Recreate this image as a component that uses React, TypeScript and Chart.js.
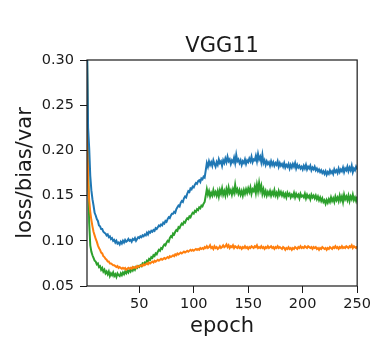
import React, { useEffect, useRef } from "react";
import { Chart, registerables } from "chart.js";

Chart.register(...registerables);

const TITLE = "VGG11";
const X_LABEL = "epoch";
const Y_LABEL = "loss/bias/var";
const xTicks = [50, 100, 150, 200, 250];
const yTicks = [0.05, 0.1, 0.15, 0.2, 0.25, 0.3];
const epochs: number[] = Array.from({ length: 250 }, (_, i) => i + 1);

const lossBlue = [
  0.420, 0.320, 0.225, 0.203, 0.172, 0.156, 0.146, 0.139, 0.131, 0.128,
  0.124, 0.122, 0.117, 0.116, 0.113, 0.113, 0.110, 0.109, 0.108, 0.106,
  0.107, 0.104, 0.105, 0.102, 0.103, 0.100, 0.101, 0.098, 0.100, 0.097,
  0.098, 0.096, 0.099, 0.097, 0.100, 0.098, 0.101, 0.099, 0.100, 0.102,
  0.100, 0.101, 0.099, 0.102, 0.101, 0.103, 0.100, 0.102, 0.104, 0.103,
  0.105, 0.104, 0.106, 0.105, 0.107, 0.106, 0.109, 0.107, 0.110, 0.109,
  0.111, 0.110, 0.112, 0.111, 0.114, 0.113, 0.115, 0.117, 0.116, 0.118,
  0.117, 0.120, 0.119, 0.122, 0.121, 0.124, 0.126, 0.125, 0.128, 0.130,
  0.130, 0.132, 0.131, 0.135, 0.137, 0.139, 0.138, 0.142, 0.144, 0.143,
  0.147, 0.149, 0.148, 0.152, 0.155, 0.154, 0.158, 0.157, 0.160, 0.159,
  0.162, 0.164, 0.163, 0.166, 0.167, 0.165, 0.169, 0.168, 0.171, 0.170,
  0.178, 0.186, 0.182, 0.188, 0.184, 0.187, 0.183, 0.189, 0.185, 0.182,
  0.187, 0.184, 0.190, 0.186, 0.188, 0.183, 0.189, 0.186, 0.191, 0.187,
  0.193, 0.188, 0.190, 0.185, 0.189, 0.187, 0.192, 0.186, 0.195, 0.188,
  0.190, 0.186, 0.189, 0.184, 0.188, 0.186, 0.190, 0.185, 0.189, 0.187,
  0.191, 0.188, 0.193, 0.187, 0.190, 0.189, 0.194, 0.188, 0.196, 0.190,
  0.193, 0.187, 0.195, 0.186, 0.189, 0.184, 0.188, 0.185, 0.187, 0.183,
  0.188, 0.184, 0.187, 0.183, 0.186, 0.184, 0.188, 0.182, 0.186, 0.183,
  0.185, 0.182, 0.186, 0.181, 0.184, 0.182, 0.185, 0.180, 0.184, 0.181,
  0.185, 0.182, 0.186, 0.180, 0.184, 0.181, 0.183, 0.180, 0.182, 0.179,
  0.183, 0.180, 0.184, 0.179, 0.182, 0.180, 0.183, 0.178, 0.181, 0.179,
  0.182, 0.178, 0.180, 0.177, 0.179, 0.176, 0.178, 0.175, 0.177, 0.174,
  0.177, 0.173, 0.176, 0.174, 0.178, 0.175, 0.177, 0.174, 0.179, 0.176,
  0.178, 0.175, 0.180, 0.176, 0.179, 0.177, 0.181, 0.176, 0.180, 0.178,
  0.182, 0.177, 0.181, 0.178, 0.183, 0.176, 0.180, 0.178, 0.182, 0.179,
];

const biasOrange = [
  0.400, 0.300, 0.165, 0.145, 0.132, 0.123, 0.116, 0.110, 0.106, 0.102,
  0.099, 0.095, 0.092, 0.090, 0.087, 0.086, 0.083, 0.082, 0.080, 0.079,
  0.077, 0.077, 0.075, 0.075, 0.074, 0.073, 0.073, 0.072, 0.071, 0.072,
  0.070, 0.071, 0.070, 0.069, 0.070, 0.069, 0.070, 0.068, 0.069, 0.070,
  0.069, 0.070, 0.069, 0.071, 0.070, 0.071, 0.070, 0.072, 0.071, 0.072,
  0.072, 0.073, 0.072, 0.074, 0.073, 0.074, 0.075, 0.074, 0.076, 0.075,
  0.076, 0.077, 0.076, 0.078, 0.077, 0.078, 0.079, 0.078, 0.079, 0.080,
  0.079, 0.080, 0.081, 0.080, 0.081, 0.082, 0.081, 0.083, 0.082, 0.083,
  0.084, 0.083, 0.085, 0.084, 0.086, 0.085, 0.086, 0.087, 0.086, 0.087,
  0.088, 0.087, 0.088, 0.089, 0.088, 0.089, 0.090, 0.089, 0.090, 0.089,
  0.090, 0.091, 0.090, 0.091, 0.090, 0.092, 0.091, 0.092, 0.091, 0.093,
  0.092, 0.094, 0.092, 0.093, 0.095, 0.092, 0.093, 0.091, 0.094, 0.092,
  0.093, 0.091, 0.092, 0.094, 0.092, 0.093, 0.095, 0.093, 0.094, 0.096,
  0.093, 0.095, 0.092, 0.094, 0.093, 0.095, 0.092, 0.094, 0.093, 0.092,
  0.094, 0.092, 0.093, 0.091, 0.093, 0.092, 0.094, 0.092, 0.093, 0.091,
  0.093, 0.092, 0.094, 0.093, 0.092, 0.094, 0.093, 0.095, 0.092, 0.093,
  0.092, 0.094, 0.092, 0.093, 0.091, 0.093, 0.092, 0.094, 0.092, 0.093,
  0.094, 0.092, 0.093, 0.091, 0.093, 0.092, 0.094, 0.092, 0.093, 0.092,
  0.091, 0.093, 0.092, 0.090, 0.092, 0.091, 0.093, 0.091, 0.092, 0.090,
  0.092, 0.091, 0.093, 0.092, 0.091, 0.093, 0.092, 0.094, 0.092, 0.093,
  0.092, 0.094, 0.093, 0.092, 0.094, 0.093, 0.092, 0.093, 0.091, 0.093,
  0.092, 0.093, 0.091, 0.092, 0.090, 0.092, 0.091, 0.093, 0.092, 0.091,
  0.092, 0.090, 0.092, 0.091, 0.093, 0.092, 0.091, 0.093, 0.092, 0.094,
  0.092, 0.093, 0.091, 0.093, 0.092, 0.094, 0.092, 0.093, 0.092, 0.094,
  0.093, 0.092, 0.094, 0.093, 0.095, 0.092, 0.094, 0.093, 0.092, 0.094,
];

const varGreen = [
  0.410, 0.310, 0.190, 0.120, 0.095, 0.088, 0.084, 0.081, 0.078, 0.077,
  0.074, 0.075, 0.071, 0.072, 0.068, 0.070, 0.066, 0.068, 0.064, 0.066,
  0.063, 0.066, 0.061, 0.064, 0.062, 0.065, 0.061, 0.063, 0.060, 0.064,
  0.062, 0.061, 0.064, 0.062, 0.065, 0.063, 0.066, 0.064, 0.067, 0.065,
  0.068, 0.066, 0.069, 0.067, 0.070, 0.068, 0.071, 0.070, 0.072, 0.071,
  0.073, 0.072, 0.075, 0.074, 0.076, 0.075, 0.078, 0.077, 0.080, 0.079,
  0.082, 0.081, 0.084, 0.083, 0.086, 0.085, 0.088, 0.090, 0.089, 0.092,
  0.091, 0.094, 0.096, 0.095, 0.098, 0.100, 0.099, 0.103, 0.105, 0.104,
  0.108, 0.107, 0.110, 0.112, 0.111, 0.115, 0.114, 0.117, 0.119, 0.118,
  0.121, 0.120, 0.123, 0.125, 0.124, 0.127, 0.126, 0.129, 0.131, 0.130,
  0.133, 0.132, 0.135, 0.134, 0.137, 0.136, 0.139, 0.138, 0.141, 0.143,
  0.150, 0.157, 0.151, 0.155, 0.149, 0.153, 0.150, 0.156, 0.151, 0.154,
  0.150, 0.155, 0.149, 0.156, 0.152, 0.158, 0.151, 0.155, 0.150, 0.157,
  0.152, 0.159, 0.153, 0.156, 0.151, 0.157, 0.153, 0.162, 0.154, 0.157,
  0.152, 0.156, 0.151, 0.155, 0.150, 0.156, 0.152, 0.157, 0.153, 0.158,
  0.154, 0.159, 0.152, 0.157, 0.155, 0.160, 0.153, 0.162, 0.155, 0.164,
  0.156, 0.161, 0.152, 0.157, 0.151, 0.155, 0.150, 0.154, 0.151, 0.155,
  0.150, 0.154, 0.151, 0.156, 0.150, 0.153, 0.149, 0.155, 0.151, 0.154,
  0.150, 0.153, 0.149, 0.152, 0.148, 0.153, 0.150, 0.152, 0.148, 0.151,
  0.149, 0.153, 0.148, 0.152, 0.149, 0.151, 0.147, 0.152, 0.149, 0.150,
  0.148, 0.152, 0.147, 0.151, 0.148, 0.150, 0.146, 0.151, 0.148, 0.150,
  0.147, 0.150, 0.146, 0.149, 0.145, 0.148, 0.144, 0.147, 0.143, 0.145,
  0.141, 0.145, 0.142, 0.146, 0.143, 0.148, 0.144, 0.147, 0.143, 0.149,
  0.145, 0.148, 0.144, 0.150, 0.145, 0.149, 0.143, 0.151, 0.146, 0.149,
  0.145, 0.150, 0.144, 0.149, 0.146, 0.151, 0.145, 0.148, 0.144, 0.149,
];

const FONT = '"DejaVu Sans", sans-serif';
const INK = "#1a1a1a";

const framePlugin = {
  id: "frameAndTitle",
  afterDatasetsDraw(chart: any) {
    const { ctx, chartArea } = chart;
    const { left, right, top, bottom } = chartArea;
    ctx.save();
    ctx.strokeStyle = INK;
    ctx.lineWidth = 1.2;
    ctx.strokeRect(left, top, right - left, bottom - top);
    ctx.restore();
  },
  afterDraw(chart: any) {
    const { ctx, chartArea } = chart;
    ctx.save();
    ctx.fillStyle = INK;
    ctx.font = `21px ${FONT}`;
    ctx.textAlign = "center";
    ctx.textBaseline = "alphabetic";
    ctx.fillText(TITLE, (chartArea.left + chartArea.right) / 2, 52);
    ctx.restore();
  },
};

export default function App() {
  const canvasRef = useRef<HTMLCanvasElement | null>(null);

  useEffect(() => {
    document.body.style.margin = "0";
    const canvas = canvasRef.current;
    if (!canvas) return;
    const mk = (vals: number[]) => epochs.map((e, i) => ({ x: e, y: vals[i] }));
    const chart = new Chart(canvas, {
      type: "line",
      data: {
        datasets: [
          { label: "loss", data: mk(lossBlue), borderColor: "#1f77b4", borderWidth: 2, pointRadius: 0, tension: 0 },
          { label: "bias", data: mk(biasOrange), borderColor: "#ff7f0e", borderWidth: 2, pointRadius: 0, tension: 0 },
          { label: "var", data: mk(varGreen), borderColor: "#2ca02c", borderWidth: 2, pointRadius: 0, tension: 0 },
        ],
      },
      options: {
        responsive: false,
        animation: false,
        events: [],
        layout: { padding: { left: 0, right: 14, top: 60, bottom: 0 } },
        plugins: { legend: { display: false }, tooltip: { enabled: false }, title: { display: false } },
        scales: {
          x: {
            type: "linear",
            min: 2,
            max: 250,
            afterBuildTicks: (s: any) => {
              s.ticks = xTicks.map((v) => ({ value: v }));
            },
            afterFit: (s: any) => {
              s.height = 54;
            },
            grid: { drawOnChartArea: false, drawTicks: true, tickLength: 7, color: INK, lineWidth: 1 },
            border: { display: false },
            ticks: { font: { family: FONT, size: 14.5 }, color: INK, padding: 3, maxRotation: 0, autoSkip: false },
            title: { display: true, text: X_LABEL, font: { family: FONT, size: 21 }, color: INK, padding: { top: 0, bottom: 1 } },
          },
          y: {
            type: "linear",
            min: 0.05,
            max: 0.3,
            afterBuildTicks: (s: any) => {
              s.ticks = yTicks.map((v) => ({ value: v }));
            },
            afterFit: (s: any) => {
              s.width = 87;
            },
            grid: { drawOnChartArea: false, drawTicks: true, tickLength: 7, color: INK, lineWidth: 1 },
            border: { display: false },
            ticks: {
              font: { family: FONT, size: 14.5 },
              color: INK,
              padding: 6,
              callback: (v: any) => Number(v).toFixed(2),
            },
            title: { display: true, text: Y_LABEL, font: { family: FONT, size: 21 }, color: INK, padding: { top: 13, bottom: 0 } },
          },
        },
      },
      plugins: [framePlugin],
    });
    return () => chart.destroy();
  }, []);

  return (
    <div style={{ position: "absolute", left: 0, top: 0, width: 374, height: 340, background: "#fff" }}>
      <canvas ref={canvasRef} width={374} height={340} style={{ display: "block" }} />
    </div>
  );
}
